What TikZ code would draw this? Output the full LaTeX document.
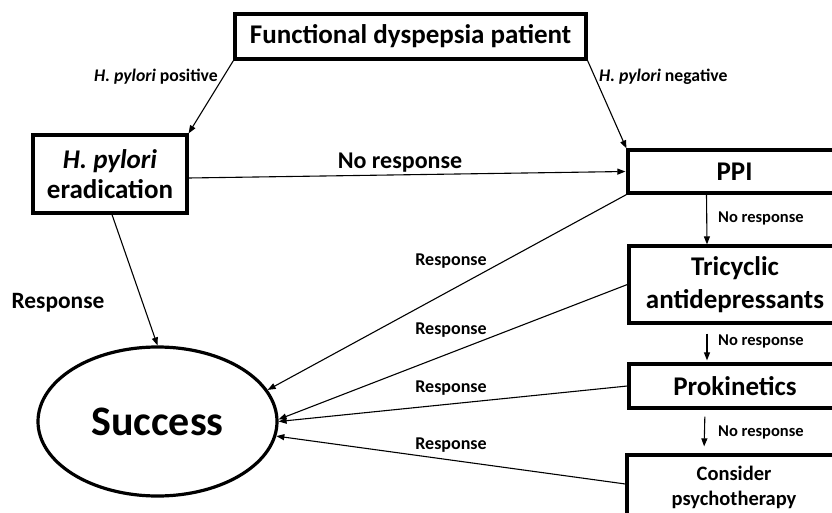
\documentclass[tikz,border=0pt]{standalone}
\usepackage{fontspec}
\setmainfont{Carlito}
\usetikzlibrary{positioning,arrows.meta,shapes.geometric}

\begin{document}
\begin{tikzpicture}[x=1pt, y=-1pt,
  box/.style={draw, line width=3.2pt, inner sep=0pt, align=center, font=\bfseries\fontsize{27}{30}\selectfont},
  arr/.style={line width=1.1pt, -{Triangle[length=8pt,width=6pt]}},
  lbl/.style={inner sep=0pt, font=\bfseries\fontsize{18}{20}\selectfont},
  small/.style={inner sep=0pt, anchor=west, font=\bfseries\fontsize{16.5}{18}\selectfont}]
  \useasboundingbox (0,0) rectangle (832,513);
  \clip (0,0) rectangle (832,513);
  % boxes
  \node[box, minimum width=351pt, minimum height=45pt] (fd) at (410.5,36.5) {Functional dyspepsia patient};
  \node[box, minimum width=154pt, minimum height=78pt] (erad) at (110,174) {\textit{H. pylori}\\eradication};
  \node[box, minimum width=213pt, minimum height=43pt] (ppi) at (734.5,171.5) {PPI};
  \node[box, minimum width=212pt, minimum height=77pt, font=\bfseries\fontsize{27}{33}\selectfont] (tca) at (735,284.5) {Tricyclic\\antidepressants};
  \node[box, minimum width=212pt, minimum height=44pt] (prok) at (735,386) {Prokinetics};
  \node[box, minimum width=214pt, minimum height=64pt, font=\bfseries\fontsize{20.5}{25}\selectfont] (psych) at (734,487) {Consider\\psychotherapy};
  \node[draw, ellipse, line width=3.2pt, inner sep=0pt, minimum width=239pt, minimum height=149pt, font=\bfseries\fontsize{42}{46}\selectfont] (succ) at (157.5,421.5) {Success};
  % connectors
  \draw[arr] (fd.south west) -- (erad.north east);
  \draw[arr] (fd.south east) -- (ppi.north west);
  \draw[arr] ([yshift=-4pt]erad.east) -- ([xshift=-1pt]ppi.west);
  \draw[arr] ([xshift=2pt]erad.south) -- (succ.north);
  \draw[arr] ([xshift=-28pt]ppi.south) -- ([xshift=-28pt]tca.north);
  \draw[arr, shorten <=9pt, shorten >=2pt] ([xshift=-28pt]tca.south) -- ([xshift=-28pt]prok.north);
  \draw[arr, shorten <=7pt, shorten >=7pt] ([xshift=-30pt]prok.south) -- ([xshift=-30pt]psych.north);
  \draw[arr] (ppi.south west) -- (succ.16);
  \draw[arr] (tca.west) -- (succ.1);
  \draw[arr] (prok.west) -- (succ.east);
  \draw[arr] ([yshift=3pt]psych.west) -- (succ.-7);
  % labels
  \node[lbl, anchor=east, font=\bfseries\fontsize{17.7}{20}\selectfont] (pos) at (218,77) {\textit{H. pylori} positive};
  \node[lbl, anchor=west, font=\bfseries\fontsize{17.7}{20}\selectfont] (neg) at (599,77) {\textit{H. pylori} negative};
  \node[lbl, font=\bfseries\fontsize{24}{26}\selectfont] (nr0) at (400,163) {No response};
  \node[lbl, font=\bfseries\fontsize{23.4}{26}\selectfont] (r0) at (58,303) {Response};
  \node[lbl] (r1) at (451,261) {Response};
  \node[lbl] (r2) at (451,330) {Response};
  \node[lbl] (r3) at (451,388) {Response};
  \node[lbl] (r4) at (451,445) {Response};
  \node[small] (nr1) at (718,218) {No response};
  \node[small] (nr2) at (718,341) {No response};
  \node[small] (nr3) at (718,432) {No response};
\end{tikzpicture}
\end{document}
